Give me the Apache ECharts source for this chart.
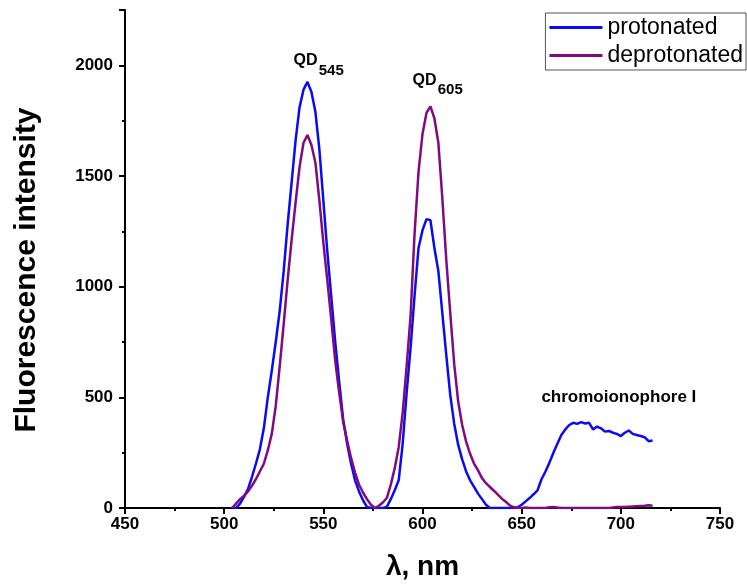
<!DOCTYPE html>
<html>
<head>
<meta charset="utf-8">
<title>Fluorescence spectra</title>
<script src="https://cdn.jsdelivr.net/npm/echarts@6/dist/echarts.min.js"></script>
<style>
  html, body { margin: 0; padding: 0; background: #fff; }
  #chart { width: 747px; height: 586px; }
</style>
</head>
<body>
<div id="chart"></div>
<script>
// Emission wavelengths (nm), 2 nm step
const wavelengths = [
  504, 506, 508, 510, 512, 514, 516, 518, 520, 522, 524, 526, 528, 530, 532, 534, 536, 538, 540, 542,
  544, 546, 548, 550, 552, 554, 556, 558, 560, 562, 564, 566, 568, 570, 572, 574, 576, 578, 580, 582,
  584, 586, 588, 590, 592, 594, 596, 598, 600, 602, 604, 606, 608, 610, 612, 614, 616, 618, 620, 622,
  624, 626, 628, 630, 632, 634, 636, 638, 640, 642, 644, 646, 648, 650, 652, 654, 656, 658, 660, 662,
  664, 666, 668, 670, 672, 674, 676, 678, 680, 682, 684, 686, 688, 690, 692, 694, 696, 698, 700, 702,
  704, 706, 708, 710, 712, 714, 716
];

// Fluorescence intensity, protonated form
const protonated = [
  0, 0, 20, 50, 85, 140, 200, 265, 360, 500, 620, 750, 890, 1070, 1280, 1470, 1660, 1810, 1890, 1925,
  1880, 1790, 1620, 1390, 1160, 955, 750, 570, 400, 290, 200, 125, 75, 35, 5, 0, 0, 0, 0, 5,
  40, 80, 125, 290, 520, 725, 960, 1175, 1255, 1305, 1300, 1175, 1070, 880, 690, 510, 380, 285, 220, 165,
  125, 95, 65, 40, 15, 0, 0, 0, 0, 0, 0, 0, 3, 15, 30, 45, 62, 80, 130, 165,
  205, 250, 290, 330, 355, 375, 385, 380, 388, 382, 385, 355, 368, 360, 345, 348, 340, 335, 325, 340,
  350, 335, 330, 325, 320, 302, 305
];

// Fluorescence intensity, deprotonated form
const deprotonated = [
  0, 20, 40, 55, 75, 100, 130, 165, 200, 260, 335, 460, 640, 830, 1030, 1210, 1380, 1540, 1650, 1685,
  1640, 1560, 1390, 1200, 1030, 850, 665, 520, 390, 305, 225, 160, 105, 70, 40, 15, 0, 10, 25, 45,
  105, 180, 275, 430, 640, 870, 1240, 1520, 1690, 1785, 1815, 1760, 1650, 1400, 1120, 880, 650, 480, 375, 300,
  245, 200, 170, 135, 112, 95, 78, 60, 42, 28, 12, 3, 0, 0, 2, 0, 0, 0, 0, 0,
  3, 5, 2, 0, 0, 0, 0, 0, 0, 0, 0, 0, 0, 0, 0, 0, 2, 4, 5, 5,
  6, 7, 8, 9, 10, 12, 10
];

const seriesNames = ['protonated', 'deprotonated'];
const seriesColors = ['#0a0af5', '#800a80'];
const xTicks = { min: 450, max: 750, step: 50 };
const yTicks = { min: 0, max: 2250, step: 500 };

const FONT = '"Liberation Sans", Arial, sans-serif';

function pairs(xs, ys) {
  return xs.map((x, i) => [x, ys[i]]);
}

// Text annotation anchored at a data coordinate
function textMark(text, coord, size) {
  return {
    coord: coord,
    symbol: 'circle',
    symbolSize: 1,
    itemStyle: { color: 'rgba(0,0,0,0)' },
    label: {
      show: true,
      position: 'inside',
      formatter: text,
      color: '#000',
      fontFamily: FONT,
      fontWeight: 'bold',
      fontSize: size
    }
  };
}

const chart = echarts.init(document.getElementById('chart'), null, { renderer: 'canvas' });

const axisCommon = {
  axisLine: { show: true, onZero: false, lineStyle: { color: '#000', width: 2 } },
  axisTick: { show: true, inside: false, length: 6, lineStyle: { color: '#000', width: 2 } },
  minorTick: { show: true, splitNumber: 2, length: 3, lineStyle: { color: '#000', width: 2 } },
  splitLine: { show: false },
  axisLabel: { color: '#000', fontFamily: FONT, fontWeight: 'bold', fontSize: 17 },
  nameLocation: 'middle',
  nameTextStyle: { color: '#000', fontFamily: FONT, fontWeight: 'bold', fontSize: 28 }
};

chart.setOption({
  animation: false,
  backgroundColor: '#fff',
  grid: { left: 125, right: 27, top: 10, bottom: 78, containLabel: false },
  legend: {
    data: seriesNames,
    orient: 'vertical',
    right: 1,
    top: 13,
    padding: [3, 3, 3, 4],
    itemGap: 5,
    itemWidth: 53,
    itemHeight: 3,
    icon: 'rect',
    borderColor: '#555',
    borderWidth: 1,
    textStyle: { color: '#000', fontFamily: FONT, fontSize: 23 }
  },
  xAxis: Object.assign({}, axisCommon, {
    type: 'value',
    min: xTicks.min,
    max: xTicks.max,
    interval: xTicks.step,
    name: 'λ, nm',
    nameGap: 45
  }),
  yAxis: Object.assign({}, axisCommon, {
    type: 'value',
    min: yTicks.min,
    max: yTicks.max,
    interval: yTicks.step,
    axisLabel: Object.assign({}, axisCommon.axisLabel, {
      margin: 12,
      formatter: v => (v % yTicks.step === 0 ? String(v) : '')
    })
  }),
  graphic: [
    {
      type: 'text',
      x: 27,
      y: 270,
      rotation: Math.PI / 2,
      style: {
        text: 'Fluorescence intensity',
        fill: '#000',
        font: 'bold 30px ' + FONT,
        textAlign: 'center',
        textVerticalAlign: 'middle'
      }
    }
  ],
  series: [
    {
      name: seriesNames[0],
      type: 'line',
      data: pairs(wavelengths, protonated),
      showSymbol: false,
      symbol: 'none',
      smooth: false,
      color: seriesColors[0],
      lineStyle: { width: 2.5, color: seriesColors[0] },
      markPoint: {
        silent: true,
        animation: false,
        data: [
          textMark('QD', [541, 2020], 16),
          textMark('545', [554, 1975], 15),
          textMark('QD', [601, 1930], 16),
          textMark('605', [614, 1889], 15),
          textMark('chromoionophore I', [699, 499], 17)
        ]
      }
    },
    {
      name: seriesNames[1],
      type: 'line',
      data: pairs(wavelengths, deprotonated),
      showSymbol: false,
      symbol: 'none',
      smooth: false,
      color: seriesColors[1],
      lineStyle: { width: 2.5, color: seriesColors[1] }
    }
  ]
});
</script>
</body>
</html>
